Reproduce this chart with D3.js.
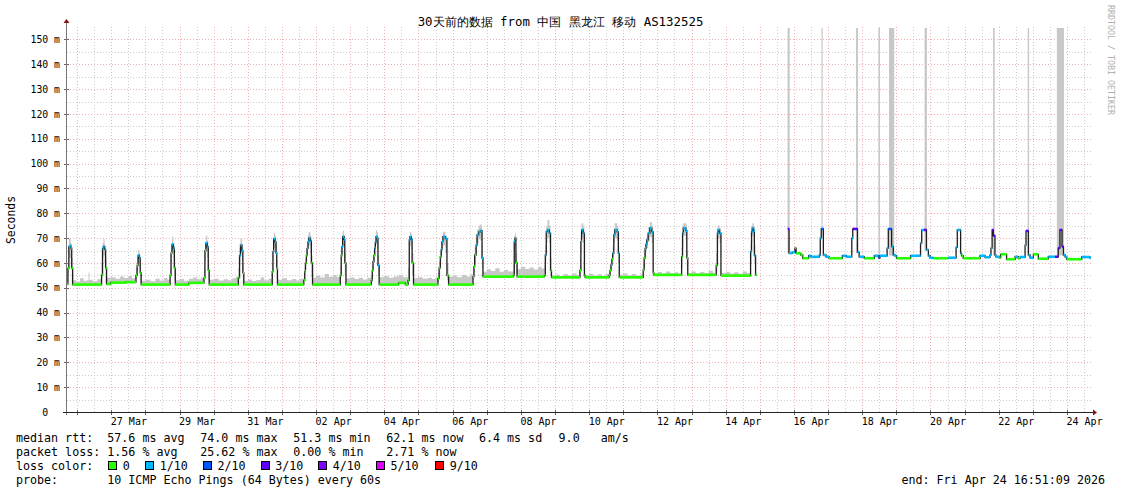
<!DOCTYPE html>
<html><head><meta charset="utf-8">
<script src="https://cdn.jsdelivr.net/npm/d3@7"></script>
<style>
body{margin:0;background:#fff;}
svg{display:block;}
text{font-family:"DejaVu Sans Mono",monospace;}
</style></head><body>
<svg id="c" width="1121" height="494"></svg>
<script>
// ---------------- DATA ----------------
const titleText = "30天前的数据 from 中国 黑龙江 移动 AS132525";
const startTime = "2026-03-25 16:51:09";
const endTime = "2026-04-24 16:51:09";
const yTicks = [0,10,20,30,40,50,60,70,80,90,100,110,120,130,140,150];
const xLabelDates = ["03-27 12:00","03-29 12:00","03-31 12:00","04-02 12:00","04-04 12:00","04-06 12:00","04-08 12:00","04-10 12:00","04-12 12:00","04-14 12:00","04-16 12:00","04-18 12:00","04-20 12:00","04-22 12:00","04-24 12:00"];
const lossLabels = ["0","1/10","2/10","3/10","4/10","5/10","9/10"];
const lossSteps = [0,1,2,3,4,5,9];
const lossColors = ["#26ff00","#00b8ff","#0059ff","#5e00ff","#7e00ff","#dd00ff","#ff0000"];

// median rtt [time, ms, lost pings of 10] - first period
const medianA = [
["03-25 16:51",51.5,0],["03-25 17:30",57.8,0],["03-25 18:10",66.6,1],["03-25 18:50",67.0,1],["03-25 19:30",66.0,1],["03-25 20:10",58.0,0],["03-25 20:50",51.3,0],
["03-26 17:10",55.2,0],["03-26 17:50",65.9,1],["03-26 18:30",66.6,1],["03-26 19:20",65.5,1],["03-26 20:00",58.0,0],["03-26 20:40",51.5,0],["03-26 23:30",52.1,0],["03-27 10:00",52.3,0],
["03-27 17:20",55.0,0],["03-27 18:10",59.0,0],["03-27 18:50",63.0,1],["03-27 19:40",62.0,1],["03-27 20:20",56.0,0],["03-27 21:00",51.3,0],
["03-28 17:20",55.0,0],["03-28 18:00",64.0,0],["03-28 18:40",67.5,1],["03-28 19:40",66.0,1],["03-28 20:20",58.0,0],["03-28 21:00",51.3,0],["03-29 06:30",52.0,0],
["03-29 17:10",54.0,0],["03-29 17:50",65.0,0],["03-29 18:30",68.0,1],["03-29 19:30",66.5,1],["03-29 20:10",57.0,0],["03-29 20:50",51.3,0],
["03-30 17:20",54.0,0],["03-30 18:10",63.0,1],["03-30 18:50",67.2,1],["03-30 19:50",65.0,1],["03-30 20:30",56.0,0],["03-30 21:10",51.3,0],
["03-31 17:10",56.5,0],["03-31 17:40",64.6,1],["03-31 18:10",69.7,1],["03-31 19:10",68.5,1],["03-31 19:50",64.0,1],["03-31 20:20",58.0,0],["03-31 20:50",51.3,0],
["04-01 15:20",53.0,0],["04-01 16:00",56.5,0],["04-01 16:30",59.9,0],["04-01 17:10",63.0,0],["04-01 17:40",65.9,1],["04-01 18:20",68.5,1],["04-01 18:50",70.0,1],["04-01 20:00",69.0,1],["04-01 20:40",60.0,0],["04-01 21:30",51.3,0],
["04-02 17:00",55.0,0],["04-02 17:40",63.0,0],["04-02 18:10",66.6,1],["04-02 18:40",70.6,1],["04-02 19:40",69.5,1],["04-02 20:10",60.0,0],["04-02 21:00",51.3,0],
["04-03 14:50",53.0,0],["04-03 15:30",57.0,0],["04-03 16:00",60.5,1],["04-03 16:40",63.0,0],["04-03 17:10",65.9,1],["04-03 17:40",68.5,1],["04-03 18:10",70.6,1],["04-03 18:50",70.0,1],["04-03 19:30",59.0,1],["04-03 20:20",51.3,0],["04-04 10:00",52.0,0],["04-04 14:40",51.3,0],
["04-04 16:40",53.0,0],["04-04 17:30",69.3,1],["04-04 18:00",70.5,1],["04-04 19:00",69.5,1],["04-04 19:30",60.0,0],["04-04 20:30",51.3,0],
["04-05 13:40",53.8,0],["04-05 14:30",58.0,0],["04-05 15:20",62.5,0],["04-05 16:00",65.5,1],["04-05 16:30",68.6,1],["04-05 17:10",70.6,1],["04-05 18:50",69.8,1],["04-05 20:00",55.0,0],["04-05 21:10",51.3,0],
["04-06 14:20",54.5,0],["04-06 15:00",58.5,0],["04-06 15:30",63.2,0],["04-06 16:30",67.2,1],["04-06 17:10",71.3,1],["04-06 18:20",72.5,1],["04-06 19:30",73.0,1],["04-06 20:40",62.0,1],["04-06 21:20",54.5,0],
["04-07 18:40",55.0,0],["04-07 19:20",68.6,1],["04-07 19:50",70.0,1],["04-07 20:30",60.0,0],["04-07 21:20",54.5,0],
["04-08 16:30",55.0,0],["04-08 17:10",63.2,1],["04-08 17:50",72.6,1],["04-08 18:40",73.3,1],["04-08 20:00",72.0,1],["04-08 20:50",57.0,0],["04-08 21:30",54.2,0],
["04-09 17:30",57.0,0],["04-09 18:10",68.6,1],["04-09 18:40",73.3,1],["04-09 19:50",72.0,1],["04-09 20:40",55.0,0],["04-09 21:10",54.2,0],
["04-10 14:00",55.0,0],["04-10 14:40",57.0,0],["04-10 15:20",59.2,1],["04-10 16:00",61.5,0],["04-10 16:30",63.9,1],["04-10 17:20",71.3,1],["04-10 18:00",73.3,1],["04-10 19:40",72.5,1],["04-10 20:30",63.9,1],["04-10 21:10",54.2,0],
["04-11 14:00",57.2,0],["04-11 14:40",62.0,0],["04-11 15:20",65.9,1],["04-11 16:00",67.5,1],["04-11 16:30",69.3,1],["04-11 17:30",72.0,1],["04-11 18:40",74.0,1],["04-11 20:00",72.5,1],["04-11 21:00",56.0,0],["04-11 21:30",55.2,0],
["04-12 17:00",62.5,0],["04-12 17:40",72.0,1],["04-12 18:10",74.0,1],["04-12 20:00",73.0,1],["04-12 20:40",62.0,0],["04-12 21:20",55.2,0],
["04-13 17:20",59.0,0],["04-13 18:10",72.0,1],["04-13 18:40",73.3,1],["04-13 19:40",72.0,1],["04-13 20:40",55.0,0],["04-13 21:10",54.9,0],
["04-14 17:30",64.6,1],["04-14 18:10",72.6,1],["04-14 18:40",74.0,1],["04-14 19:40",73.0,1],["04-14 20:10",63.0,1],["04-14 21:00",55.2,0],["04-14 21:40",55.2,0]
];

// median rtt - second period (after the gap)
const medianB = [
["04-15 19:40",73.7,3],["04-15 20:30",64.0,1],["04-15 22:50",64.3,1],["04-16 00:40",66.0,0],["04-16 01:30",63.9,0],["04-16 04:50",63.2,0],["04-16 06:10",61.9,0],["04-16 10:20",62.9,1],["04-16 11:50",62.5,1],
["04-16 17:50",63.2,1],["04-16 18:30",70.0,1],["04-16 19:10",73.7,2],["04-16 20:40",63.2,1],["04-16 22:30",62.5,1],["04-17 00:40",61.9,0],["04-17 10:00",62.9,1],["04-17 12:50",62.5,1],
["04-17 16:40",70.0,1],["04-17 17:20",73.7,3],["04-17 20:40",64.3,1],["04-17 21:50",62.5,1],["04-18 01:30",61.9,0],["04-18 08:30",62.9,1],["04-18 11:30",62.1,2],["04-18 12:30",62.9,1],
["04-18 17:30",66.0,1],["04-18 18:20",73.7,2],["04-18 20:40",66.6,1],["04-18 21:50",63.2,1],["04-18 23:00",62.9,1],["04-19 00:10",61.9,0],["04-19 10:00",62.9,1],
["04-19 17:00",68.0,1],["04-19 17:50",73.3,1],["04-19 19:30",73.3,3],["04-19 21:10",65.3,1],["04-19 22:30",62.9,1],["04-19 23:40",62.1,1],["04-20 02:00",61.9,0],["04-20 12:30",62.1,1],
["04-20 18:00",66.3,1],["04-20 18:50",73.3,1],["04-20 21:10",63.9,1],["04-20 21:50",62.9,0],["04-20 23:00",61.9,0],["04-21 10:50",62.9,1],["04-21 14:20",62.3,1],["04-21 17:50",63.2,1],
["04-21 18:30",66.0,1],["04-21 19:20",73.3,3],["04-21 20:10",71.0,3],["04-21 21:20",63.2,1],["04-21 22:00",62.5,1],["04-22 00:20",62.1,0],["04-22 01:20",63.5,0],["04-22 05:30",61.5,0],["04-22 11:30",62.5,1],["04-22 13:40",61.9,0],["04-22 15:00",62.4,1],
["04-22 18:30",67.2,1],["04-22 19:10",72.9,3],["04-22 20:50",63.2,1],["04-22 22:00",62.1,1],["04-23 00:20",63.5,0],["04-23 03:50",61.7,0],["04-23 10:50",62.5,1],["04-23 15:30",62.5,3],
["04-23 17:50",66.0,3],["04-23 19:00",73.3,3],["04-23 20:30",66.6,3],["04-23 21:30",63.2,1],["04-23 22:40",62.4,1],["04-23 23:50",61.5,0],["04-24 10:20",62.4,1],["04-24 16:00",62.1,1],["04-24 16:51",62.1,1]
];

// smoke band (min / max ping) [time, low ms, high ms]
const smoke = [
["03-25 16:51",51.0,53.5],["03-25 17:30",55.0,62.0],["03-25 18:10",62.0,70.0],["03-25 19:30",60.0,68.0],["03-25 20:10",52.0,62.0],["03-25 20:50",51.0,53.0],["03-25 23:30",51.0,52.5],["03-26 02:00",51.0,53.8],["03-26 04:30",51.0,52.8],["03-26 06:30",51.0,53.0],["03-26 08:00",51.0,56.2],["03-26 08:40",51.0,53.2],["03-26 11:00",51.0,52.6],["03-26 14:00",51.0,53.4],
["03-26 17:10",54.0,60.0],["03-26 17:50",62.0,68.0],["03-26 18:30",63.0,69.5],["03-26 19:20",60.0,67.0],["03-26 20:00",52.0,62.0],["03-26 20:40",51.2,54.0],["03-26 23:30",51.8,54.3],["03-27 03:00",51.8,53.6],["03-27 06:00",51.8,54.6],["03-27 09:00",51.8,53.9],["03-27 12:00",51.8,54.8],["03-27 14:30",51.8,53.8],
["03-27 17:20",54.0,58.0],["03-27 18:10",57.0,62.0],["03-27 18:50",60.0,65.3],["03-27 19:40",58.0,64.0],["03-27 20:20",52.0,58.0],["03-27 21:00",51.0,52.8],["03-28 00:00",51.0,53.2],["03-28 03:30",51.0,52.6],["03-28 07:00",51.0,53.6],["03-28 10:00",51.0,52.9],["03-28 13:00",51.0,53.9],["03-28 15:30",51.0,53.2],
["03-28 17:20",54.0,58.0],["03-28 18:00",60.0,66.0],["03-28 18:40",64.0,70.6],["03-28 19:40",62.0,68.0],["03-28 20:20",53.0,62.0],["03-28 21:00",51.0,53.0],["03-29 00:00",51.0,53.5],["03-29 03:00",51.0,52.8],["03-29 06:30",51.6,53.6],["03-29 09:30",51.6,54.2],["03-29 12:30",51.6,53.4],["03-29 15:00",51.6,54.0],
["03-29 17:10",53.5,58.0],["03-29 17:50",61.0,67.0],["03-29 18:30",64.5,71.0],["03-29 19:30",62.0,69.0],["03-29 20:10",53.0,61.0],["03-29 20:50",51.0,53.2],["03-30 00:00",51.0,53.6],["03-30 03:30",51.0,52.9],["03-30 07:00",51.0,53.4],["03-30 10:00",51.0,53.0],["03-30 13:00",51.0,53.8],["03-30 15:30",51.0,54.5],
["03-30 17:20",53.5,58.0],["03-30 18:10",59.0,66.0],["03-30 18:50",64.0,70.0],["03-30 19:50",61.0,67.5],["03-30 20:30",52.5,60.0],["03-30 21:10",51.0,52.8],["03-31 00:00",51.0,53.3],["03-31 03:00",51.0,52.7],["03-31 06:00",51.0,53.1],["03-31 09:00",51.0,54.2],["03-31 11:30",51.0,53.0],["03-31 14:30",51.0,53.6],
["03-31 17:10",54.0,60.0],["03-31 17:40",61.0,67.0],["03-31 18:10",66.0,72.0],["03-31 19:10",65.0,71.0],["03-31 19:50",60.0,67.0],["03-31 20:20",53.0,61.0],["03-31 20:50",51.0,53.2],["04-01 00:00",51.0,53.8],["04-01 03:30",51.0,53.0],["04-01 07:00",51.0,53.5],["04-01 10:00",51.0,52.9],["04-01 12:30",51.0,53.6],
["04-01 15:20",52.0,55.0],["04-01 16:00",54.5,58.5],["04-01 16:30",57.5,62.0],["04-01 17:10",60.5,65.5],["04-01 17:40",63.0,68.5],["04-01 18:20",66.0,71.5],["04-01 18:50",67.0,72.5],["04-01 20:00",64.0,71.0],["04-01 20:40",54.0,63.0],["04-01 21:30",51.0,54.0],["04-02 00:00",51.0,55.0],["04-02 03:00",51.0,54.2],["04-02 06:00",51.0,55.6],["04-02 09:00",51.0,54.5],["04-02 12:00",51.0,55.2],["04-02 14:30",51.0,54.4],
["04-02 17:00",53.5,59.0],["04-02 17:40",60.0,66.0],["04-02 18:10",64.0,70.0],["04-02 18:40",67.0,73.0],["04-02 19:40",65.0,71.5],["04-02 20:10",55.0,64.0],["04-02 21:00",51.0,53.8],["04-03 00:00",51.0,54.2],["04-03 03:00",51.0,53.5],["04-03 06:00",51.0,54.0],["04-03 09:00",51.0,53.3],["04-03 12:00",51.0,54.1],
["04-03 14:50",52.0,55.0],["04-03 15:30",54.5,59.0],["04-03 16:00",57.5,62.5],["04-03 16:40",60.5,65.0],["04-03 17:10",63.0,68.0],["04-03 17:40",65.5,71.0],["04-03 18:10",67.5,73.3],["04-03 18:50",66.0,72.5],["04-03 19:30",55.0,63.0],["04-03 20:20",51.0,54.3],["04-03 23:30",51.0,54.8],["04-04 03:00",51.0,54.0],["04-04 06:30",51.0,54.6],["04-04 10:00",51.5,55.2],["04-04 13:00",51.5,54.3],
["04-04 16:40",52.5,58.0],["04-04 17:30",64.0,71.0],["04-04 18:00",67.0,72.5],["04-04 19:00",65.5,71.5],["04-04 19:30",55.0,64.0],["04-04 20:30",51.0,53.8],["04-04 23:30",51.0,54.3],["04-05 03:00",51.0,53.6],["04-05 06:30",51.0,54.0],["04-05 09:30",51.0,53.5],["04-05 12:00",51.0,54.2],
["04-05 13:40",52.5,56.0],["04-05 14:30",55.0,60.5],["04-05 15:20",59.0,65.0],["04-05 16:00",62.5,68.0],["04-05 16:30",65.0,71.0],["04-05 17:10",67.0,72.6],["04-05 18:50",64.0,71.0],["04-05 20:00",53.0,60.0],["04-05 21:10",51.0,54.5],["04-06 00:00",51.0,55.0],["04-06 03:00",51.0,54.3],["04-06 06:30",51.0,55.2],["04-06 10:00",51.0,54.6],["04-06 12:30",51.0,55.5],
["04-06 14:20",53.5,57.0],["04-06 15:00",56.0,61.5],["04-06 15:30",60.0,66.0],["04-06 16:30",64.0,70.0],["04-06 17:10",68.0,73.5],["04-06 18:20",69.5,75.0],["04-06 19:30",69.0,75.5],["04-06 20:40",58.0,67.0],["04-06 21:20",54.0,56.5],["04-07 00:00",54.0,57.5],["04-07 03:00",54.0,56.8],["04-07 06:00",54.0,57.9],["04-07 09:00",54.0,56.5],["04-07 12:00",54.0,57.2],["04-07 15:00",54.0,56.6],
["04-07 18:40",54.5,60.0],["04-07 19:20",64.0,71.0],["04-07 19:50",66.5,72.0],["04-07 20:30",56.0,64.0],["04-07 21:20",54.0,57.5],["04-08 00:00",54.0,58.5],["04-08 03:00",54.0,57.6],["04-08 06:00",54.0,58.2],["04-08 09:00",54.0,57.4],["04-08 12:00",54.0,58.5],["04-08 14:30",54.0,57.8],
["04-08 16:30",54.5,59.0],["04-08 17:10",60.0,67.0],["04-08 17:50",68.0,75.0],["04-08 18:40",70.0,77.3],["04-08 20:00",68.0,75.0],["04-08 20:50",55.0,62.0],["04-08 21:30",53.8,55.0],["04-09 00:00",53.8,55.4],["04-09 03:00",53.8,54.8],["04-09 06:00",53.8,55.6],["04-09 09:00",53.8,55.0],["04-09 12:00",53.8,55.8],["04-09 15:00",53.8,55.2],
["04-09 17:30",55.0,62.0],["04-09 18:10",64.0,72.0],["04-09 18:40",70.0,76.0],["04-09 19:50",68.0,75.0],["04-09 20:40",54.5,58.0],["04-09 21:10",53.8,55.2],["04-10 00:00",53.8,55.7],["04-10 03:00",53.8,55.0],["04-10 06:00",53.8,55.5],["04-10 09:00",53.8,54.9],["04-10 11:30",53.8,55.6],
["04-10 14:00",54.0,56.5],["04-10 14:40",55.5,59.0],["04-10 15:20",57.5,61.5],["04-10 16:00",59.5,64.0],["04-10 16:30",62.0,67.0],["04-10 17:20",68.0,74.0],["04-10 18:00",70.0,76.0],["04-10 19:40",69.0,75.0],["04-10 20:30",60.0,67.0],["04-10 21:10",53.8,55.3],["04-11 00:00",53.8,55.8],["04-11 03:00",53.8,55.1],["04-11 06:00",53.8,55.6],["04-11 09:00",53.8,55.0],["04-11 11:30",53.8,55.4],
["04-11 14:00",55.5,60.0],["04-11 14:40",59.0,64.5],["04-11 15:20",62.5,68.0],["04-11 16:00",64.5,70.0],["04-11 16:30",66.0,71.5],["04-11 17:30",68.5,74.5],["04-11 18:40",70.5,76.5],["04-11 20:00",68.0,75.0],["04-11 21:00",55.0,60.0],["04-11 21:30",54.8,56.0],["04-12 00:00",54.8,56.4],["04-12 03:00",54.8,55.8],["04-12 06:00",54.8,56.6],["04-12 09:00",54.8,55.9],["04-12 12:00",54.8,56.3],["04-12 14:30",54.8,55.8],
["04-12 17:00",58.0,66.0],["04-12 17:40",67.0,75.0],["04-12 18:10",71.0,76.0],["04-12 20:00",69.0,75.5],["04-12 20:40",57.0,65.0],["04-12 21:20",54.8,56.0],["04-13 00:00",54.8,56.6],["04-13 03:00",54.8,55.9],["04-13 06:00",54.8,56.4],["04-13 09:00",54.8,56.0],["04-13 12:00",54.8,56.8],["04-13 15:00",54.8,56.1],
["04-13 17:20",56.0,64.0],["04-13 18:10",67.0,74.5],["04-13 18:40",70.0,75.2],["04-13 19:40",68.0,74.0],["04-13 20:40",54.8,57.0],["04-13 21:10",54.6,56.0],["04-14 00:00",54.6,56.5],["04-14 03:00",54.6,55.8],["04-14 06:00",54.6,56.3],["04-14 09:00",54.6,55.7],["04-14 12:00",54.6,56.6],["04-14 15:00",54.6,56.0],
["04-14 17:30",60.0,68.0],["04-14 18:10",68.0,75.0],["04-14 18:40",71.0,76.0],["04-14 19:40",69.0,75.0],["04-14 20:10",60.0,67.0],["04-14 21:00",54.8,56.0],["04-14 21:40",54.8,56.0]
];

// smoke running off the top of the graph [from, to, low ms]
const smokeBars = [
["04-15 19:30","04-15 21:00",64.0],["04-16 19:20","04-16 20:10",70.0],["04-17 19:40","04-17 21:00",64.0],
["04-18 11:20","04-18 12:30",62.0],["04-18 18:50","04-18 22:30",63.0],["04-19 19:50","04-19 21:30",65.0],
["04-21 20:00","04-21 21:10",63.0],["04-22 20:20","04-22 21:20",63.0],["04-23 16:50","04-23 21:50",63.0]
];

const legendRtt = ["median rtt:","57.6 ms avg","74.0 ms max","51.3 ms min","62.1 ms now","6.4 ms sd","9.0   am/s"];
const legendLoss = ["packet loss:","1.56 % avg","25.62 % max","0.00 % min","2.71 % now"];
const legendProbe = ["probe:","10 ICMP Echo Pings (64 Bytes) every 60s"];
const endLabel = "end: Fri Apr 24 16:51:09 2026";

// ---------------- DRAW ----------------
const svg = d3.select("#c");
const P = d3.utcParse("%Y-%m-%d %H:%M");
const PS = d3.utcParse("%Y-%m-%d %H:%M:%S");
const t = s => P("2026-" + s);
const t0 = PS(startTime), t1 = PS(endTime);
const L = 67, R = 1091, B = 412, T = 28;
const x = d3.scaleUtc().domain([t0, t1]).range([L, R]);
const y = d3.scaleLinear().domain([0, 154.6]).range([B, T]);
const lossColor = n => lossColors[lossSteps.findIndex(s => s >= n)];

svg.append("rect").attr("width",1121).attr("height",494).attr("fill","#fff");

// grid
const g = svg.append("g").attr("shape-rendering","crispEdges");
const minorY = yTicks.slice(0,-1).map(v => v + 5);
const GREY = "#cdcdcd", RED = "#f4b0b0";
g.selectAll(".hmin").data(minorY).join("line")
  .attr("x1",L).attr("x2",R+2).attr("y1",d=>Math.round(y(d))+0.5).attr("y2",d=>Math.round(y(d))+0.5)
  .attr("stroke",GREY).attr("stroke-dasharray","1,2");
const noons = d3.utcHour.range(t0, t1).filter(d => d.getUTCHours() === 12);
const mids = d3.utcDay.range(t0, t1);
g.selectAll(".vmin").data(noons).join("line")
  .attr("x1",d=>Math.round(x(d))+0.5).attr("x2",d=>Math.round(x(d))+0.5).attr("y1",B).attr("y2",T-2)
  .attr("stroke",GREY).attr("stroke-dasharray","1,2");
g.selectAll(".hmaj").data(yTicks.slice(1)).join("line")
  .attr("x1",L).attr("x2",R+2).attr("y1",d=>Math.round(y(d))+0.5).attr("y2",d=>Math.round(y(d))+0.5)
  .attr("stroke",RED).attr("stroke-dasharray","1,2");
g.selectAll(".vmaj").data(mids).join("line")
  .attr("x1",d=>Math.round(x(d))+0.5).attr("x2",d=>Math.round(x(d))+0.5).attr("y1",B).attr("y2",T-2)
  .attr("stroke",RED).attr("stroke-dasharray","1,2");

// smoke
const sm = smoke.map(d => ({t:t(d[0]), lo:d[1], hi:d[2]}));
svg.append("path").datum(sm)
  .attr("d", d3.area().x(d=>x(d.t)).y0(d=>y(d.lo)).y1(d=>y(d.hi)).curve(d3.curveStepAfter))
  .attr("fill","#c8c8c8");
svg.selectAll(".bar").data(smokeBars).join("rect")
  .attr("x", d=>x(t(d[0]))).attr("width", d=>Math.max(1, x(t(d[1])) - x(t(d[0]))))
  .attr("y", y(154.6)).attr("height", d=>y(d[2]) - y(154.6))
  .attr("fill","#c8c8c8");

// median lines
[medianA, medianB].forEach(arr => {
  const pts = arr.map(d => ({t:t(d[0]), v:d[1], l:d[2]}));
  svg.append("path").datum(pts)
    .attr("d", d3.line().x(d=>x(d.t)).y(d=>y(d.v)).curve(d3.curveStepAfter))
    .attr("fill","none").attr("stroke","#1e1e1e").attr("stroke-width",1.3);
  const segs = pts.slice(0,-1).map((d,i) => ({x0:x(d.t), x1:x(pts[i+1].t), v:d.v, l:d.l}));
  svg.append("g").selectAll("rect").data(segs).join("rect")
    .attr("x", d=>d.x0).attr("width", d=>Math.max(1.2, d.x1-d.x0))
    .attr("y", d=>y(d.v)-1.3).attr("height", 2.6)
    .attr("fill", d=>lossColor(d.l));
});

// axes
const xAxis = d3.axisBottom(x).tickValues(xLabelDates.map(t)).tickSize(0).tickPadding(6)
  .tickFormat(d3.utcFormat("%d %b"));
const gx = svg.append("g").attr("transform",`translate(0,${B})`).call(xAxis);
gx.select(".domain").remove();
gx.selectAll("text").attr("font-family","DejaVu Sans Mono").attr("font-size",10).attr("fill","#000");

const yAxis = d3.axisLeft(y).tickValues(yTicks).tickSize(0).tickPadding(7)
  .tickFormat(d => d === 0 ? "0\u00a0\u00a0" : d + " m");
const gy = svg.append("g").attr("transform",`translate(${L},0)`).call(yAxis);
gy.select(".domain").remove();
gy.selectAll("text").attr("font-family","DejaVu Sans Mono").attr("font-size",9.8).attr("fill","#000");

// axis lines + ticks
const ax = svg.append("g").attr("shape-rendering","crispEdges");
ax.selectAll(".yt").data(yTicks.slice(1)).join("line")
  .attr("x1",L-3).attr("x2",L+2).attr("y1",d=>Math.round(y(d))+0.5).attr("y2",d=>Math.round(y(d))+0.5)
  .attr("stroke","#666");
ax.selectAll(".xt").data(mids).join("line")
  .attr("x1",d=>Math.round(x(d))+0.5).attr("x2",d=>Math.round(x(d))+0.5).attr("y1",B-2).attr("y2",B+3)
  .attr("stroke","#666");
ax.append("line").attr("x1",L-0.5).attr("x2",L-0.5).attr("y1",B+3).attr("y2",T-6).attr("stroke","#777");
ax.append("line").attr("x1",L-4).attr("x2",R+3).attr("y1",B+0.5).attr("y2",B+0.5).attr("stroke","#222");
svg.append("path").attr("d",`M${L-3.5},${T-5} L${L+2.5},${T-5} L${L-0.5},${T-9} Z`).attr("fill","#8b1010");
svg.append("path").attr("d",`M${R+2},${B-2.5} L${R+2},${B+3.5} L${R+6},${B+0.5} Z`).attr("fill","#8b1010");

// title and labels
svg.append("text").attr("x",560.5).attr("y",26).attr("text-anchor","middle")
  .attr("font-family","'DejaVu Sans Mono','Noto Sans CJK SC'").attr("font-size",12.4).text(titleText);
svg.append("text").attr("transform",`translate(15,${(T+B)/2}) rotate(-90)`).attr("text-anchor","middle")
  .attr("font-size",11.4).text("Seconds");
svg.append("text").attr("transform","translate(1108,5) rotate(90)")
  .attr("font-size",8.3).attr("fill","#b0b0b0").text("RRDTOOL / TOBI OETIKER");

// legend
const cols = [16,107.3,200.3,293.3,386.3,479,558.6];
const lg = svg.append("g").attr("font-size",11.66).attr("fill","#000");
function row(items, yy){ items.forEach((s,i)=> lg.append("text").attr("x",cols[i]).attr("y",yy).style("white-space","pre").text(s)); }
row(legendRtt, 442);
row(legendLoss, 456);
row(legendProbe, 484);
lg.append("text").attr("x",16).attr("y",470).text("loss color:");
const sqX = [108.3,145.3,203,260.7,318.3,376,435.3];
lossLabels.forEach((s,i)=>{
  lg.append("rect").attr("x",sqX[i]+0.5).attr("y",461.5).attr("width",8).attr("height",8)
    .attr("fill",lossColors[i]).attr("stroke","#000").attr("stroke-width",1).attr("shape-rendering","crispEdges");
  lg.append("text").attr("x",sqX[i]+14.5).attr("y",470).text(s);
});
lg.append("text").attr("x",1105).attr("y",484).attr("text-anchor","end").text(endLabel);
</script>
</body></html>
